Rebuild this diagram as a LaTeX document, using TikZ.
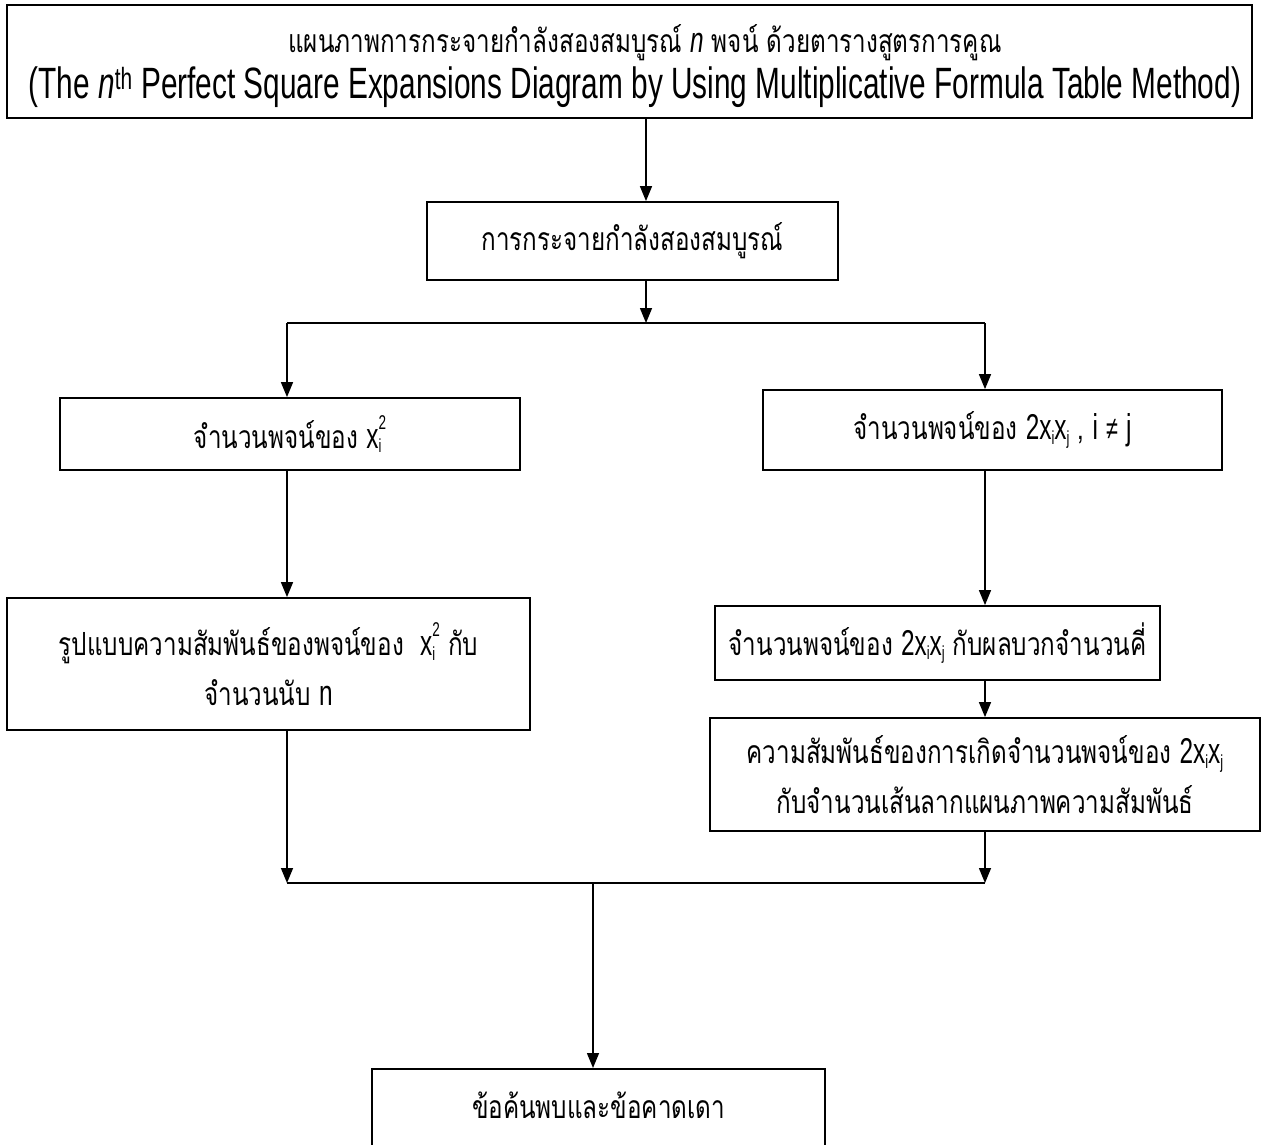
\documentclass[tikz,border=0pt]{standalone}
\usepackage{fontspec}
\usetikzlibrary{arrows.meta}
\setmainfont{Loma}[Script=Thai, FakeStretch=0.76]
\newfontfamily\cond[FakeStretch=0.68]{Liberation Sans}
\newcommand\thsz{\fontsize{32}{50}\selectfont}
\newcommand\mth[1]{{\cond\fontsize{36}{36}\selectfont #1}}
\newcommand\sbi[1]{\raisebox{-0.25ex}{\fontsize{19}{19}\selectfont #1}}
\newcommand\xsq{\mth{x\rlap{\sbi{i}}\raisebox{1.0ex}{\fontsize{20}{20}\selectfont 2}}}
\newcommand\xixj{\mth{2x\sbi{i}x\sbi{j}}}
\tikzset{
  box/.style={draw, line width=1.8bp, rectangle, inner sep=0pt, align=center, font=\thsz},
  lbl/.style={inner sep=0pt},
  conn/.style={line width=1.5bp},
  arr/.style={line width=1.5bp, -{Triangle[width=12bp,length=15bp]}}
}
\begin{document}
\begin{tikzpicture}[x=1bp, y=-1bp]
\useasboundingbox (0,0) rectangle (1261,1145);
\clip (0,0) rectangle (1261,1145);
\node[box, minimum width=1245bp, minimum height=113bp] (title) at (629.5,61.5) {};
\node[lbl, font=\thsz, text height=20bp, text depth=4bp] (t1) at (645,44) {แผนภาพการกระจายกำลังสองสมบูรณ์ \mth{\itshape n} พจน์ ด้วยตารางสูตรการคูณ};
\node[lbl, font=\cond\fontsize{44}{50}\selectfont, text height=32bp, text depth=8bp] (t2) at (635,86)
  {(The {\itshape n}\textsuperscript{th} Perfect Square Expansions Diagram by Using Multiplicative Formula Table Method)};
\node[box, minimum width=411bp, minimum height=78bp] (b2) at (632.5,241) {การกระจายกำลังสองสมบูรณ์};
\node[box, minimum width=460bp, minimum height=72bp] (L1) at (290,434) {จำนวนพจน์ของ \xsq};
\node[box, minimum width=459bp, minimum height=80bp] (R1) at (992.5,430) {จำนวนพจน์ของ \xixj\ , \mth{i} {\cond ≠} \mth{j}};
\node[box, minimum width=523bp, minimum height=132bp] (L2) at (268.5,664) {รูปแบบความสัมพันธ์ของพจน์ของ \ \xsq\ กับ\\จำนวนนับ \mth{n}};
\node[box, minimum width=445bp, minimum height=74bp] (R2) at (937.5,643) {จำนวนพจน์ของ \xixj\ กับผลบวกจำนวนคี่};
\node[box, minimum width=550bp, minimum height=113bp] (R3) at (985,774.5) {ความสัมพันธ์ของการเกิดจำนวนพจน์ของ \xixj\\กับจำนวนเส้นลากแผนภาพความสัมพันธ์};
\node[box, minimum width=453bp, minimum height=150bp, anchor=north] (bot) at (598.5,1068) {};
\node[lbl, font=\thsz] (bottxt) at (598.5,1105) {ข้อค้นพบและข้อคาดเดา};
\coordinate (s) at (646,323);
\coordinate (sl) at (287,323);
\coordinate (sr) at (985,323);
\coordinate (ml) at (287,883);
\coordinate (mr) at (985,883);
\coordinate (mm) at (593,883);
\draw[arr] (title.south -| s) -- (b2.north -| s);
\draw[arr] (b2.south -| s) -- (s);
\draw[conn] (sl) -- (sr);
\draw[arr] (sl) -- (L1.north -| sl);
\draw[arr] (sr) -- (R1.north -| sr);
\draw[arr] (L1.south -| sl) -- (L2.north -| sl);
\draw[arr] (R1.south -| sr) -- (R2.north -| sr);
\draw[arr] (R2.south -| sr) -- (R3.north -| sr);
\draw[arr] (L2.south -| ml) -- (ml);
\draw[arr] (R3.south -| mr) -- (mr);
\draw[conn] (ml) -- (mr);
\draw[arr] (mm) -- (bot.north -| mm);
\end{tikzpicture}
\end{document}
